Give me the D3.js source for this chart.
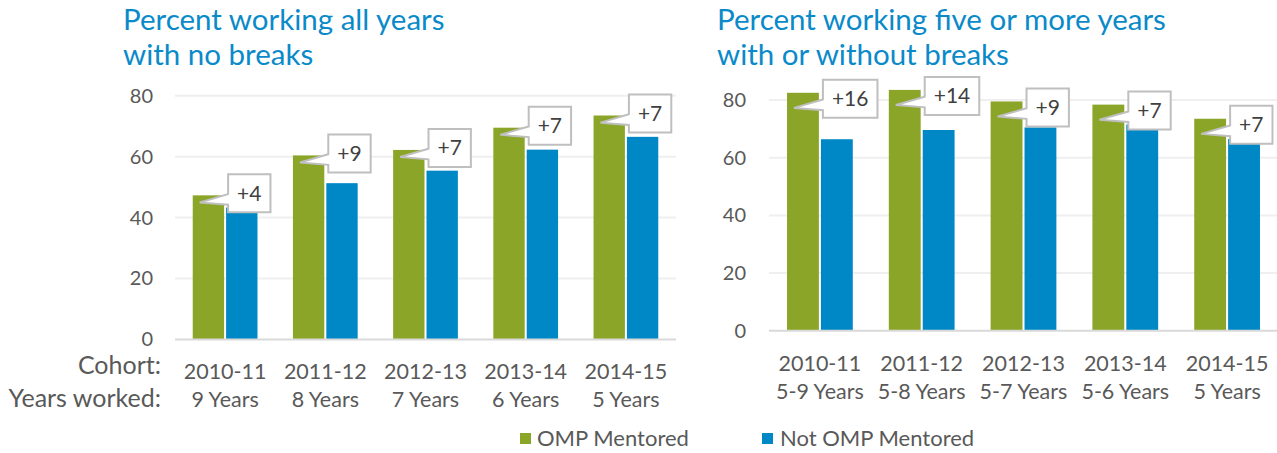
<!DOCTYPE html>
<html>
<head>
<meta charset="utf-8">
<script src="https://cdn.jsdelivr.net/npm/d3@7"></script>
<style>
  html, body { margin: 0; padding: 0; background: #ffffff; }
  svg { display: block; font-family: Lato, "Open Sans", sans-serif; }
</style>
</head>
<body>
<svg id="chart" width="1277" height="453"></svg>
<script>
// ---- data ----
const cohorts = ["2010-11", "2011-12", "2012-13", "2013-14", "2014-15"];
const leftYearsWorked = ["9 Years", "8 Years", "7 Years", "6 Years", "5 Years"];
const rightYearsWorked = ["5-9 Years", "5-8 Years", "5-7 Years", "5-6 Years", "5 Years"];
const leftMentored = [47.3, 60.4, 62.2, 69.5, 73.5];
const leftNotMentored = [43.3, 51.3, 55.4, 62.3, 66.5];
const leftDiffLabels = ["+4", "+9", "+7", "+7", "+7"];
const rightMentored = [82.5, 83.5, 79.5, 78.4, 73.5];
const rightNotMentored = [66.4, 69.6, 70.5, 71.5, 66.5];
const rightDiffLabels = ["+16", "+14", "+9", "+7", "+7"];
const yTickValues = [0, 20, 40, 60, 80];
const seriesNames = ["OMP Mentored", "Not OMP Mentored"];
const leftTitle = ["Percent working all years", "with no breaks"];
const rightTitle = ["Percent working five or more years", "with or without breaks"];
const rowHeaders = ["Cohort:", "Years worked:"];

// ---- styles ----
const GREEN = "#8BA528";
const BLUE = "#0088C6";
const TITLE_BLUE = "#0A8AC9";
const TEXT = "#595959";
const svg = d3.select("#chart");

function drawChart(cfg) {
  const g = svg.append("g");
  const x = d3.scaleBand().domain(cohorts).range([cfg.left, cfg.right])
    .paddingInner(0.354).paddingOuter(0.177);
  const xs = d3.scaleBand().domain([0, 1]).range([0, x.bandwidth()]).paddingInner(0.06);
  const y = d3.scaleLinear().domain([0, 80]).range([cfg.bottom, cfg.top]);

  // title
  const t = g.append("text").attr("x", cfg.titleX).attr("y", 30)
    .attr("fill", TITLE_BLUE).style("font-size", "29.5px");
  cfg.title.forEach((line, i) => t.append("tspan").attr("x", cfg.titleX).attr("dy", i ? 35 : 0).text(line));

  // gridlines
  g.append("g").selectAll("line").data(yTickValues.filter(v => v > 0)).join("line")
    .attr("x1", cfg.left).attr("x2", cfg.gridRight)
    .attr("y1", d => y(d)).attr("y2", d => y(d))
    .attr("stroke", "#EFEFEF").attr("stroke-width", 2);

  // y axis labels
  const yAxis = d3.axisLeft(y).tickValues(yTickValues).tickSize(0).tickPadding(0);
  const ya = g.append("g").attr("transform", `translate(${cfg.tickX},0)`).call(yAxis);
  ya.select(".domain").remove();
  ya.selectAll("text").attr("fill", TEXT).style("font-size", "20px").style("font-family", "Lato");

  // bars
  const groups = g.append("g").selectAll("g").data(cohorts).join("g")
    .attr("transform", d => `translate(${x(d)},0)`);
  groups.append("rect")
    .attr("x", xs(0)).attr("width", xs.bandwidth())
    .attr("y", (d, i) => y(cfg.mentored[i]))
    .attr("height", (d, i) => y(0) - y(cfg.mentored[i]))
    .attr("fill", GREEN);
  groups.append("rect")
    .attr("x", xs(1)).attr("width", xs.bandwidth())
    .attr("y", (d, i) => y(cfg.notMentored[i]))
    .attr("height", (d, i) => y(0) - y(cfg.notMentored[i]))
    .attr("fill", BLUE);

  // baseline
  g.append("line").attr("x1", cfg.left).attr("x2", cfg.gridRight)
    .attr("y1", y(0)).attr("y2", y(0)).attr("stroke", "#D9D9D9").attr("stroke-width", 2);

  // callouts
  cohorts.forEach((c, i) => {
    const gx = x(c) + xs(0);
    const bx = x(c) + xs(1) + 2;
    const label = cfg.diffs[i];
    const cg = g.append("g");
    const txt = cg.append("text").text(label).style("font-size", "21px").attr("fill", "#404040");
    const tw = txt.node().getComputedTextLength();
    const w = tw + 18, h = 38;
    const cy = y(cfg.mentored[i]) + cfg.calloutDy;
    const top = cy - h / 2;
    const tipX = gx + 7, tipY = top + 0.74 * h;
    const path = `M${bx},${top} H${bx + w} V${top + h} H${bx} V${top + 0.8 * h} L${tipX},${tipY} L${bx},${top + 0.52 * h} Z`;
    cg.insert("path", "text").attr("d", path).attr("fill", "#fff")
      .attr("stroke", "#BFBFBF").attr("stroke-width", 2).attr("stroke-linejoin", "miter");
    txt.attr("x", bx + w / 2).attr("y", top + h / 2 + 7.5).attr("text-anchor", "middle");
  });

  // category labels
  const cl = g.append("g").selectAll("text").data(cohorts).join("text")
    .attr("text-anchor", "middle").attr("fill", TEXT).style("font-size", "21.5px")
    .attr("x", d => x(d) + x.bandwidth() / 2);
  cl.append("tspan").attr("x", d => x(d) + x.bandwidth() / 2).attr("y", cfg.catY1).text(d => d);
  cl.append("tspan").attr("x", d => x(d) + x.bandwidth() / 2).attr("y", cfg.catY2)
    .text((d, i) => cfg.years[i]);
  return { x, y };
}

drawChart({
  left: 175, right: 676, gridRight: 676, top: 95.7, bottom: 339.5,
  tickX: 153, titleX: 123, title: leftTitle, calloutDy: -2,
  mentored: leftMentored, notMentored: leftNotMentored, diffs: leftDiffLabels,
  years: leftYearsWorked, catY1: 379, catY2: 407
});
drawChart({
  left: 769, right: 1278, gridRight: 1277, top: 100, bottom: 330.8,
  tickX: 746, titleX: 717, title: rightTitle, calloutDy: 6,
  mentored: rightMentored, notMentored: rightNotMentored, diffs: rightDiffLabels,
  years: rightYearsWorked, catY1: 371, catY2: 399
});

// row headers
svg.append("g").selectAll("text").data(rowHeaders).join("text")
  .attr("x", 161).attr("y", (d, i) => i ? 407 : 374)
  .attr("text-anchor", "end").attr("fill", TEXT).style("font-size", "25px")
  .text(d => d);

// legend
const legendX = [520, 762];
const lg = svg.append("g").selectAll("g").data(seriesNames).join("g")
  .attr("transform", (d, i) => `translate(${legendX[i]},433)`);
lg.append("rect").attr("width", 11).attr("height", 11).attr("fill", (d, i) => i ? BLUE : GREEN);
lg.append("text").attr("x", (d, i) => i ? 18 : 17).attr("y", 13).attr("fill", TEXT)
  .style("font-size", "22px").text(d => d);
</script>
</body>
</html>
